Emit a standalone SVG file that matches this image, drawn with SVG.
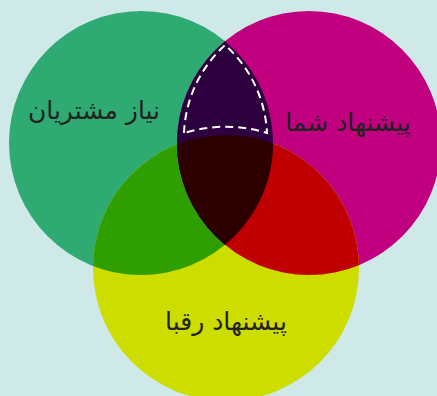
<svg xmlns="http://www.w3.org/2000/svg" width="437" height="396" viewBox="0 0 437 396">
<style>
.lbl{font-family:"DejaVu Sans",sans-serif;font-size:25px;fill:#222;text-anchor:middle;direction:rtl}
</style>
<defs>
<clipPath id="cg"><circle cx="141" cy="143" r="132"/></clipPath>
<clipPath id="cm"><circle cx="309" cy="143" r="132"/></clipPath>
<clipPath id="cy"><circle cx="226" cy="268" r="133"/></clipPath>
</defs>
<rect width="437" height="396" fill="#cfe8e8"/>
<g id="needs"><circle cx="141" cy="143" r="132" fill="#2eaa72"/></g>
<g id="offer"><circle cx="309" cy="143" r="132" fill="#c0007f"/></g>
<g id="rivals"><circle cx="226" cy="268" r="133" fill="#cedd00"/></g>
<g id="overlaps">
<g clip-path="url(#cy)"><circle cx="141" cy="143" r="132" fill="#2e9e00"/><circle cx="309" cy="143" r="132" fill="#c00000"/></g>
<g clip-path="url(#cg)"><circle cx="309" cy="143" r="132" fill="#2d0040"/></g>
<g clip-path="url(#cg)"><g clip-path="url(#cm)"><circle cx="226" cy="268" r="133" fill="#2d0000"/></g></g>
</g>
<g id="connectors">
<path id="sweet-spot" d="M184 133 A126 126 0 0 1 225 45 A126 126 0 0 1 267 133 A141 141 0 0 0 184 133 Z" fill="none" stroke="#fff" stroke-width="2" stroke-dasharray="8 5"/>
</g>
<text class="lbl" x="94" y="119">نیاز مشتریان</text>
<text class="lbl" x="348" y="131">پیشنهاد شما</text>
<text class="lbl" x="226" y="330">پیشنهاد رقبا</text>
</svg>
